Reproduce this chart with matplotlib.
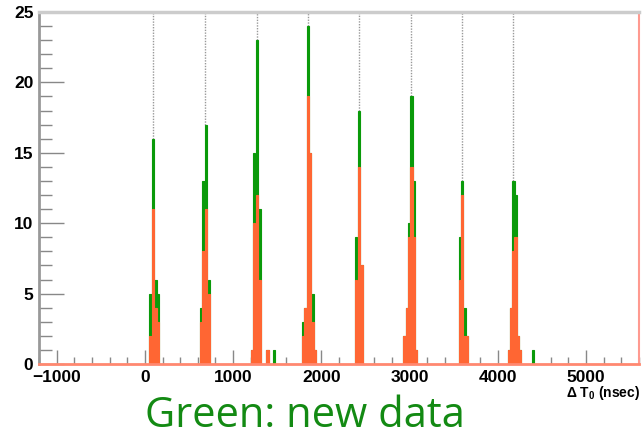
import matplotlib
matplotlib.use("Agg")
import matplotlib.pyplot as plt
from matplotlib.ticker import MultipleLocator

plt.rcParams['font.family'] = ['Liberation Sans', 'DejaVu Sans']
plt.rcParams['mathtext.fontset'] = 'custom'
plt.rcParams['mathtext.bf'] = 'Liberation Sans:bold'
plt.rcParams['mathtext.rm'] = 'Liberation Sans:bold'

# bin centres (nsec) and counts
bin_centers = [64, 92, 120, 148,
               638, 664, 695, 724,
               1211, 1237, 1269, 1297,
               1390, 1466,
               1790, 1819, 1849, 1874, 1899, 1929,
               2391, 2427, 2461,
               2943, 2969, 2997, 3020, 3045, 3074,
               3569, 3597, 3624, 3652,
               4125, 4151, 4176, 4202, 4227, 4252,
               4398]
old_counts = [2, 11, 4, 3,
              3, 8, 11, 5,
              1, 10, 12, 6,
              1, 0,
              2, 4, 19, 15, 3, 1,
              6, 14, 7,
              2, 4, 9, 14, 9, 1,
              6, 12, 2, 2,
              1, 4, 8, 9, 2, 1,
              0]
new_counts = [5, 16, 6, 5,
              4, 13, 17, 6,
              1, 15, 23, 11,
              1, 1,
              3, 4, 24, 15, 5, 1,
              9, 18, 7,
              2, 4, 10, 19, 13, 1,
              9, 13, 4, 2,
              1, 4, 13, 12, 2, 1,
              1]
peak_marks = [92, 681, 1268, 1849, 2431, 3016, 3592, 4177]
peak_tops = [16, 17, 23, 24, 18, 19, 13, 13]

xticks = [-1000, 0, 1000, 2000, 3000, 4000, 5000]
yticks = [0, 5, 10, 15, 20, 25]

W = 27
GREEN = '#0a9a0a'
ORANGE = '#ff6633'

fig = plt.figure(figsize=(6.44, 4.37), dpi=100)
ax = fig.add_axes([39/644, 73/437, 600/644, 352/437])

ax.vlines(peak_marks, peak_tops, 25, colors='#999999', linestyles=(0, (1, 1)), linewidth=1, zorder=1)
ax.bar(bin_centers, new_counts, width=W, color=GREEN, edgecolor=GREEN, linewidth=0.8, zorder=2)
ax.bar(bin_centers, old_counts, width=W, color=ORANGE, edgecolor=ORANGE, linewidth=0.8, zorder=3)

ax.set_xlim(-1200, 5600)
ax.set_ylim(0, 25)
ax.set_xticks(xticks)
ax.set_yticks(yticks)
ax.xaxis.set_minor_locator(MultipleLocator(200))
ax.yaxis.set_minor_locator(MultipleLocator(1))
ax.tick_params(axis='x', which='major', direction='in', length=10, width=1, color='#888888', pad=4)
ax.tick_params(axis='x', which='minor', direction='in', length=5, width=1, color='#888888')
ax.tick_params(axis='y', which='major', direction='in', length=18, width=1, color='#888888', pad=4)
ax.tick_params(axis='y', which='minor', direction='in', length=9, width=1, color='#888888')
for lab in ax.get_xticklabels() + ax.get_yticklabels():
    lab.set_fontweight('bold')
    lab.set_fontsize(12.5)

ax.spines['left'].set_color('#999999')
ax.spines['left'].set_linewidth(2)
ax.spines['top'].set_color('#cccccc')
ax.spines['top'].set_linewidth(2.5)
ax.spines['bottom'].set_color('#ff8870')
ax.spines['bottom'].set_linewidth(2)
ax.spines['right'].set_color('#ff9a90')
ax.spines['right'].set_linewidth(1.5)
ax.spines['bottom'].set_zorder(5)

fig.text(640/644, 1 - 393/437, r'$\Delta$ T$_{0}$ (nsec)', ha='right', va='center',
         fontsize=10, fontweight='bold')
fig.text(305/644, 1 - 416/437, 'Green: new data', ha='center', va='center',
         fontsize=30, color='#138a13', family=['Open Sans', 'DejaVu Sans'])

fig.savefig('out.png', dpi=100)
